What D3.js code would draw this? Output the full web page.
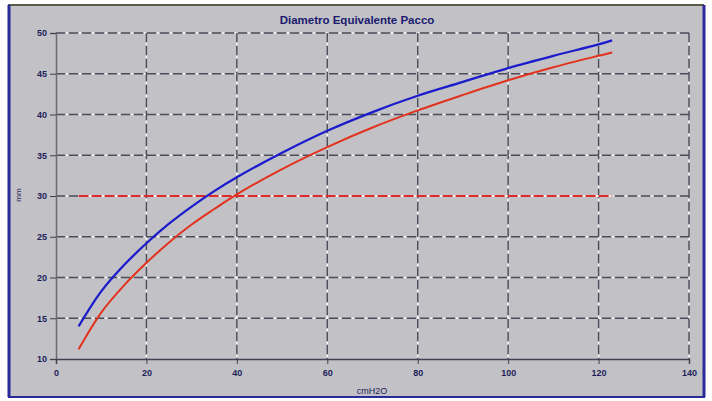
<!DOCTYPE html>
<html>
<head>
<meta charset="utf-8">
<script src="https://cdn.jsdelivr.net/npm/d3@7"></script>
<style>
  body { margin: 0; background: #ffffff; }
  text { font-family: "Liberation Sans", Arial, sans-serif; }
</style>
</head>
<body>
<div id="chart"></div>
<script>
// values
const pressure = [5, 10, 15, 20, 25, 30, 35, 40, 50, 60, 70, 80, 90, 100, 110, 120, 123]
const diamBlue = [14.0, 18.3, 21.5, 24.2, 26.6, 28.7, 30.6, 32.3, 35.3, 38.0, 40.3, 42.3, 44.0, 45.7, 47.2, 48.6, 49.1]
const diamRed = [11.2, 15.7, 19.0, 21.8, 24.3, 26.5, 28.4, 30.2, 33.3, 36.0, 38.4, 40.5, 42.4, 44.2, 45.8, 47.2, 47.6]
const limitX = [5, 123]
const limitY = [30, 30]
const xTicks = [0, 20, 40, 60, 80, 100, 120, 140]
const yTicks = [10, 15, 20, 25, 30, 35, 40, 45, 50]

function drawChart() {
  let dimensions = {
    width: 712,
    height: 401,
    margin: { top: 33, right: 23, bottom: 42, left: 56 },
  }
  dimensions.boundedWidth = dimensions.width - dimensions.margin.left - dimensions.margin.right
  dimensions.boundedHeight = dimensions.height - dimensions.margin.top - dimensions.margin.bottom

  const wrapper = d3.select("#chart")
    .append("svg")
    .attr("width", dimensions.width)
    .attr("height", dimensions.height)

  // window frame
  wrapper.append("rect")
    .attr("x", 9).attr("y", 5)
    .attr("width", 695).attr("height", 391)
    .attr("fill", "#c2c2c6")
  wrapper.append("line")
    .attr("x1", 8).attr("x2", 704).attr("y1", 5).attr("y2", 5)
    .attr("stroke", "#5a5a48").attr("stroke-width", 2)
  wrapper.append("line")
    .attr("x1", 9).attr("x2", 9).attr("y1", 5).attr("y2", 397)
    .attr("stroke", "#2a2a9a").attr("stroke-width", 3)
  wrapper.append("line")
    .attr("x1", 704).attr("x2", 704).attr("y1", 5).attr("y2", 397)
    .attr("stroke", "#2a2a9a").attr("stroke-width", 3)
  wrapper.append("line")
    .attr("x1", 8).attr("x2", 705).attr("y1", 397).attr("y2", 397)
    .attr("stroke", "#2a2a9a").attr("stroke-width", 2)

  const bounds = wrapper.append("g")
    .attr("transform", `translate(${dimensions.margin.left}, ${dimensions.margin.top})`)

  const xScale = d3.scaleLinear()
    .domain([0, 140])
    .range([0, dimensions.boundedWidth])
  const yScale = d3.scaleLinear()
    .domain([10, 50])
    .range([dimensions.boundedHeight, 0])

  // grids: dark dashes with white dots in between
  const gridDark = "#4c4c5a"
  function dashedLine(x1, y1, x2, y2, color) {
    bounds.append("line")
      .attr("x1", x1).attr("x2", x2).attr("y1", y1).attr("y2", y2)
      .attr("stroke", "#f8f8f8").attr("stroke-width", 1.5)
      .attr("stroke-dasharray", "2 11").attr("stroke-dashoffset", 3)
    bounds.append("line")
      .attr("x1", x1).attr("x2", x2).attr("y1", y1).attr("y2", y2)
      .attr("stroke", color).attr("stroke-width", 1.4)
      .attr("stroke-dasharray", "9 4")
  }
  yTicks.filter(d => d > 10).forEach(d => {
    dashedLine(0, yScale(d), dimensions.boundedWidth, yScale(d), gridDark)
  })
  xTicks.filter(d => d > 0).forEach(d => {
    dashedLine(xScale(d), 0, xScale(d), dimensions.boundedHeight, gridDark)
  })

  // axes
  const yAxisGenerator = d3.axisLeft(yScale)
    .tickValues(yTicks)
    .tickSize(6)
    .tickPadding(3)
  const yAxis = bounds.append("g").call(yAxisGenerator)
  yAxis.select(".domain").attr("stroke", "#6a6a70").attr("stroke-width", 1.5)
  yAxis.selectAll(".tick line").attr("stroke", "#404050")
  yAxis.selectAll(".tick text")
    .attr("fill", "#1e1e5a").style("font-size", "9px").style("font-weight", "bold")

  const xAxisGenerator = d3.axisBottom(xScale)
    .tickValues(xTicks)
    .tickSize(5)
    .tickPadding(6)
  const xAxis = bounds.append("g")
    .call(xAxisGenerator)
    .attr("transform", `translate(0, ${dimensions.boundedHeight})`)
  xAxis.select(".domain").attr("stroke", "#404050").attr("stroke-width", 1.5)
  xAxis.selectAll(".tick line").attr("stroke", "#404050")
  xAxis.selectAll(".tick text")
    .attr("fill", "#1e1e5a").style("font-size", "9px").style("font-weight", "bold")

  // limit line at 30 mm
  const limitData = limitX.map((x, i) => ({ x: x, y: limitY[i] }))
  const limitLine = d3.line().x(d => xScale(d.x)).y(d => yScale(d.y))
  bounds.append("path")
    .attr("d", limitLine(limitData))
    .attr("fill", "none").attr("stroke", "#f6f0f0").attr("stroke-width", 2)
  bounds.append("path")
    .attr("d", limitLine(limitData))
    .attr("fill", "none").attr("stroke", "#dd2a2a").attr("stroke-width", 2.2)
    .attr("stroke-dasharray", "10 3")

  // curves
  const lineGenerator = d3.line()
    .x(d => xScale(d[0]))
    .y(d => yScale(d[1]))
    .curve(d3.curveCatmullRom)
  bounds.append("path")
    .attr("d", lineGenerator(d3.zip(pressure, diamRed)))
    .attr("fill", "none").attr("stroke", "#e2321e").attr("stroke-width", 2)
  bounds.append("path")
    .attr("d", lineGenerator(d3.zip(pressure, diamBlue)))
    .attr("fill", "none").attr("stroke", "#1c1ccc").attr("stroke-width", 2.3)

  // labels
  wrapper.append("text")
    .attr("x", 357).attr("y", 24)
    .attr("text-anchor", "middle")
    .attr("fill", "#1a1a6e")
    .style("font-size", "11.5px").style("font-weight", "bold")
    .text("Diametro Equivalente Pacco")

  wrapper.append("text")
    .attr("x", 372).attr("y", 394)
    .attr("text-anchor", "middle")
    .attr("fill", "#1e1e5a")
    .style("font-size", "9px")
    .text("cmH2O")

  wrapper.append("text")
    .attr("transform", "translate(21, 195) rotate(-90)")
    .attr("text-anchor", "middle")
    .attr("fill", "#1e1e5a")
    .style("font-size", "8px")
    .text("mm")
}
drawChart()
</script>
</body>
</html>
